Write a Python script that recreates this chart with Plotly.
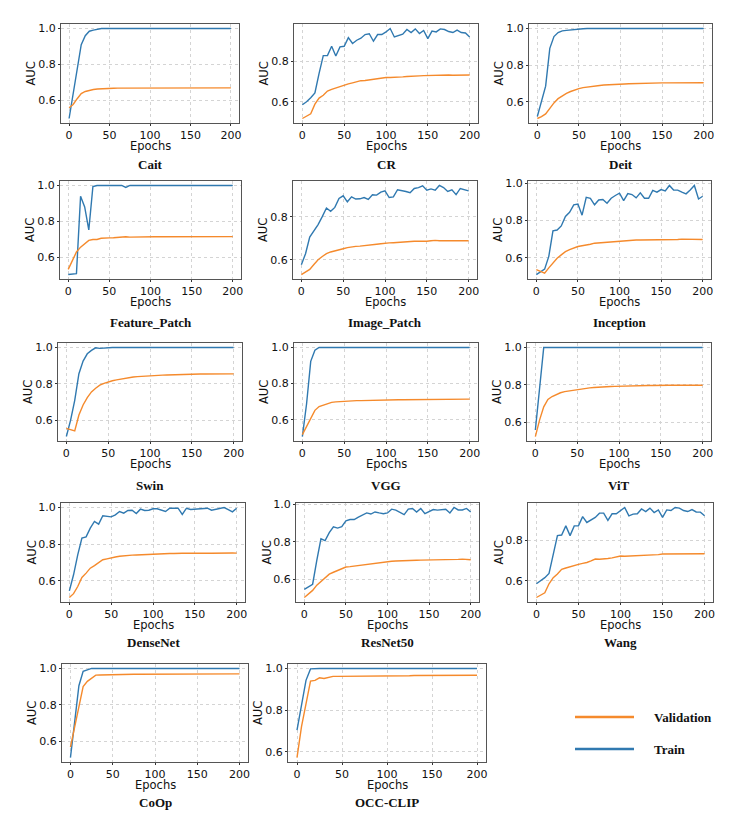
"""
Train / validation AUC curves over 200 epochs for 14 detectors,
laid out as a 5x3 grid of small panels with a shared legend in the
empty bottom-right slot.

Writes out.html.
"""
import plotly.graph_objects as go

EPOCHS = list(range(0, 201, 5))

CAIT_TRAIN = [0.500, 0.640, 0.770, 0.910, 0.960, 0.985, 0.991, 0.997, 1.000, 1.000,
              1.000, 1.000, 1.000, 1.000, 1.000, 1.000, 1.000, 1.000, 1.000, 1.000,
              1.000, 1.000, 1.000, 1.000, 1.000, 1.000, 1.000, 1.000, 1.000, 1.000,
              1.000, 1.000, 1.000, 1.000, 1.000, 1.000, 1.000, 1.000, 1.000, 1.000,
              1.000]
CAIT_VAL = [0.560, 0.578, 0.610, 0.638, 0.650, 0.657, 0.661, 0.664, 0.666, 0.667,
            0.668, 0.668, 0.669, 0.669, 0.669, 0.669, 0.669, 0.669, 0.669, 0.669,
            0.670, 0.670, 0.670, 0.670, 0.670, 0.670, 0.670, 0.670, 0.670, 0.670,
            0.670, 0.670, 0.670, 0.670, 0.670, 0.670, 0.670, 0.670, 0.670, 0.670,
            0.670]

CR_TRAIN = [0.585, 0.600, 0.620, 0.643, 0.740, 0.828, 0.828, 0.874, 0.826, 0.871,
            0.874, 0.917, 0.888, 0.904, 0.914, 0.932, 0.936, 0.899, 0.932, 0.932,
            0.945, 0.962, 0.920, 0.929, 0.934, 0.957, 0.942, 0.960, 0.937, 0.952,
            0.912, 0.949, 0.945, 0.960, 0.957, 0.947, 0.942, 0.954, 0.942, 0.940,
            0.920]
CR_VAL = [0.517, 0.528, 0.540, 0.588, 0.618, 0.632, 0.653, 0.661, 0.668, 0.677,
          0.684, 0.688, 0.693, 0.699, 0.704, 0.705, 0.708, 0.712, 0.715, 0.718,
          0.720, 0.720, 0.720, 0.722, 0.723, 0.725, 0.727, 0.728, 0.728, 0.729,
          0.730, 0.731, 0.731, 0.731, 0.731, 0.732, 0.731, 0.732, 0.732, 0.732,
          0.732]

DEIT_TRAIN = [0.521, 0.610, 0.686, 0.892, 0.956, 0.978, 0.987, 0.990, 0.993, 0.996,
              0.998, 0.999, 1.000, 1.000, 1.000, 1.000, 1.000, 1.000, 1.000, 1.000,
              1.000, 1.000, 1.000, 1.000, 1.000, 1.000, 1.000, 1.000, 1.000, 1.000,
              1.000, 1.000, 1.000, 1.000, 1.000, 1.000, 1.000, 1.000, 1.000, 1.000,
              1.000]
DEIT_VAL = [0.510, 0.520, 0.535, 0.565, 0.595, 0.618, 0.634, 0.647, 0.657, 0.666,
            0.673, 0.678, 0.682, 0.685, 0.688, 0.690, 0.692, 0.694, 0.695, 0.696,
            0.697, 0.698, 0.699, 0.700, 0.701, 0.701, 0.702, 0.702, 0.703, 0.703,
            0.704, 0.704, 0.704, 0.704, 0.705, 0.705, 0.705, 0.705, 0.705, 0.705,
            0.705]

FEATURE_PATCH_TRAIN = [0.502, 0.503, 0.507, 0.939, 0.880, 0.752, 0.994, 1.000, 1.000, 1.000,
                       0.997, 1.000, 1.000, 1.000, 0.989, 1.000, 1.000, 1.000, 1.000, 1.000,
                       1.000, 1.000, 1.000, 1.000, 1.000, 1.000, 1.000, 1.000, 1.000, 1.000,
                       1.000, 1.000, 1.000, 1.000, 1.000, 1.000, 1.000, 1.000, 1.000, 1.000,
                       1.000]
FEATURE_PATCH_VAL = [0.531, 0.580, 0.628, 0.655, 0.675, 0.693, 0.698, 0.698, 0.705, 0.708,
                     0.707, 0.708, 0.710, 0.711, 0.713, 0.711, 0.712, 0.713, 0.712, 0.713,
                     0.713, 0.713, 0.713, 0.713, 0.713, 0.713, 0.713, 0.713, 0.713, 0.713,
                     0.713, 0.712, 0.712, 0.713, 0.714, 0.713, 0.713, 0.713, 0.713, 0.713,
                     0.714]

IMAGE_PATCH_TRAIN = [0.577, 0.628, 0.705, 0.735, 0.763, 0.800, 0.840, 0.825, 0.843, 0.885,
                     0.897, 0.869, 0.892, 0.882, 0.883, 0.889, 0.880, 0.902, 0.900, 0.914,
                     0.920, 0.889, 0.892, 0.925, 0.922, 0.917, 0.911, 0.931, 0.935, 0.943,
                     0.923, 0.929, 0.923, 0.945, 0.935, 0.917, 0.925, 0.902, 0.931, 0.925,
                     0.920]
IMAGE_PATCH_VAL = [0.531, 0.542, 0.555, 0.578, 0.600, 0.615, 0.628, 0.636, 0.642, 0.647,
                   0.651, 0.656, 0.660, 0.662, 0.663, 0.666, 0.669, 0.670, 0.672, 0.674,
                   0.677, 0.678, 0.679, 0.681, 0.682, 0.684, 0.686, 0.686, 0.686, 0.685,
                   0.686, 0.688, 0.690, 0.688, 0.688, 0.688, 0.688, 0.688, 0.690, 0.689,
                   0.688]

INCEPTION_TRAIN = [0.509, 0.526, 0.538, 0.607, 0.744, 0.749, 0.771, 0.822, 0.844, 0.884,
                   0.889, 0.829, 0.925, 0.920, 0.885, 0.911, 0.913, 0.893, 0.920, 0.935,
                   0.947, 0.907, 0.945, 0.940, 0.922, 0.949, 0.920, 0.920, 0.962, 0.953,
                   0.967, 0.960, 0.989, 0.964, 0.964, 0.953, 0.944, 0.965, 0.989, 0.916,
                   0.931]
INCEPTION_VAL = [0.535, 0.525, 0.516, 0.545, 0.571, 0.597, 0.615, 0.632, 0.643, 0.652,
                 0.660, 0.664, 0.666, 0.672, 0.678, 0.680, 0.682, 0.684, 0.686, 0.687,
                 0.688, 0.690, 0.691, 0.693, 0.695, 0.695, 0.695, 0.696, 0.696, 0.696,
                 0.696, 0.697, 0.697, 0.697, 0.698, 0.700, 0.699, 0.697, 0.696, 0.697,
                 0.698]

SWIN_TRAIN = [0.511, 0.600, 0.710, 0.856, 0.925, 0.965, 0.984, 0.998, 0.995, 0.998,
              0.998, 1.000, 1.000, 1.000, 1.000, 1.000, 1.000, 1.000, 1.000, 1.000,
              1.000, 1.000, 1.000, 1.000, 1.000, 1.000, 1.000, 1.000, 1.000, 1.000,
              1.000, 1.000, 1.000, 1.000, 1.000, 1.000, 1.000, 1.000, 1.000, 1.000,
              1.000]
SWIN_VAL = [0.556, 0.548, 0.542, 0.629, 0.684, 0.725, 0.756, 0.776, 0.793, 0.803,
            0.811, 0.817, 0.822, 0.827, 0.832, 0.835, 0.838, 0.840, 0.842, 0.844,
            0.845, 0.846, 0.847, 0.848, 0.849, 0.850, 0.851, 0.851, 0.852, 0.852,
            0.853, 0.853, 0.854, 0.854, 0.854, 0.854, 0.855, 0.855, 0.855, 0.855,
            0.855]

VGG_TRAIN = [0.507, 0.687, 0.923, 0.985, 1.000, 1.000, 1.000, 1.000, 1.000, 1.000,
             1.000, 1.000, 1.000, 1.000, 1.000, 1.000, 1.000, 1.000, 1.000, 1.000,
             1.000, 1.000, 1.000, 1.000, 1.000, 1.000, 1.000, 1.000, 1.000, 1.000,
             1.000, 1.000, 1.000, 1.000, 1.000, 1.000, 1.000, 1.000, 1.000, 1.000,
             1.000]
VGG_VAL = [0.518, 0.560, 0.610, 0.652, 0.673, 0.682, 0.690, 0.696, 0.699, 0.701,
           0.703, 0.704, 0.705, 0.706, 0.706, 0.707, 0.707, 0.708, 0.708, 0.709,
           0.710, 0.710, 0.710, 0.711, 0.711, 0.711, 0.711, 0.712, 0.712, 0.712,
           0.712, 0.712, 0.713, 0.713, 0.713, 0.713, 0.713, 0.714, 0.714, 0.714,
           0.714]

VIT_TRAIN = [0.559, 0.770, 1.000, 1.000, 1.000, 1.000, 1.000, 1.000, 1.000, 1.000,
             1.000, 1.000, 1.000, 1.000, 1.000, 1.000, 1.000, 1.000, 1.000, 1.000,
             1.000, 1.000, 1.000, 1.000, 1.000, 1.000, 1.000, 1.000, 1.000, 1.000,
             1.000, 1.000, 1.000, 1.000, 1.000, 1.000, 1.000, 1.000, 1.000, 1.000,
             1.000]
VIT_VAL = [0.524, 0.612, 0.683, 0.722, 0.738, 0.750, 0.758, 0.764, 0.768, 0.772,
           0.775, 0.778, 0.781, 0.784, 0.786, 0.788, 0.789, 0.790, 0.791, 0.792,
           0.793, 0.794, 0.794, 0.795, 0.796, 0.796, 0.797, 0.797, 0.797, 0.798,
           0.798, 0.798, 0.798, 0.798, 0.798, 0.798, 0.798, 0.798, 0.798, 0.798,
           0.798]

DENSENET_TRAIN = [0.545, 0.633, 0.742, 0.833, 0.840, 0.887, 0.924, 0.909, 0.955, 0.953,
                  0.949, 0.960, 0.978, 0.969, 0.984, 0.985, 0.967, 0.991, 0.984, 0.985,
                  0.993, 0.993, 0.987, 0.978, 0.996, 0.998, 0.996, 0.962, 0.996, 0.989,
                  0.991, 0.993, 0.993, 0.996, 0.985, 0.989, 0.996, 1.000, 0.989, 0.976,
                  0.996]
DENSENET_VAL = [0.509, 0.530, 0.569, 0.618, 0.642, 0.669, 0.683, 0.698, 0.715, 0.720,
                0.727, 0.730, 0.734, 0.737, 0.739, 0.740, 0.741, 0.742, 0.744, 0.746,
                0.749, 0.748, 0.747, 0.748, 0.749, 0.749, 0.748, 0.750, 0.751, 0.750,
                0.750, 0.751, 0.751, 0.750, 0.750, 0.751, 0.750, 0.751, 0.752, 0.752,
                0.751]

RESNET50_TRAIN = [0.545, 0.558, 0.573, 0.700, 0.816, 0.806, 0.849, 0.880, 0.873, 0.880,
                  0.912, 0.919, 0.919, 0.932, 0.945, 0.954, 0.948, 0.959, 0.954, 0.950,
                  0.954, 0.974, 0.969, 0.959, 0.945, 0.974, 0.978, 0.959, 0.978, 0.950,
                  0.959, 0.972, 0.969, 0.970, 0.974, 0.954, 0.983, 0.970, 0.970, 0.978,
                  0.959]
RESNET50_VAL = [0.502, 0.520, 0.540, 0.568, 0.587, 0.605, 0.627, 0.637, 0.647, 0.656,
                0.665, 0.667, 0.670, 0.674, 0.678, 0.680, 0.683, 0.685, 0.688, 0.691,
                0.695, 0.696, 0.697, 0.697, 0.697, 0.699, 0.700, 0.701, 0.702, 0.702,
                0.703, 0.703, 0.703, 0.703, 0.704, 0.705, 0.706, 0.706, 0.707, 0.706,
                0.704]

WANG_TRAIN = [0.585, 0.600, 0.615, 0.636, 0.727, 0.823, 0.826, 0.871, 0.823, 0.871,
              0.871, 0.917, 0.888, 0.901, 0.913, 0.934, 0.934, 0.898, 0.931, 0.931,
              0.945, 0.962, 0.921, 0.929, 0.931, 0.955, 0.942, 0.959, 0.937, 0.950,
              0.913, 0.950, 0.947, 0.962, 0.959, 0.947, 0.942, 0.952, 0.940, 0.939,
              0.921]
WANG_VAL = [0.517, 0.528, 0.540, 0.585, 0.615, 0.633, 0.656, 0.663, 0.670, 0.676,
            0.681, 0.686, 0.690, 0.698, 0.707, 0.706, 0.707, 0.710, 0.713, 0.717,
            0.722, 0.721, 0.722, 0.723, 0.724, 0.725, 0.727, 0.727, 0.726, 0.729,
            0.732, 0.732, 0.732, 0.732, 0.732, 0.731, 0.730, 0.733, 0.733, 0.733,
            0.733]

COOP_TRAIN = [0.509, 0.705, 0.905, 0.984, 0.991, 1.000, 1.000, 1.000, 1.000, 1.000,
              1.000, 1.000, 1.000, 1.000, 1.000, 1.000, 1.000, 1.000, 1.000, 1.000,
              1.000, 1.000, 1.000, 1.000, 1.000, 1.000, 1.000, 1.000, 1.000, 1.000,
              1.000, 1.000, 1.000, 1.000, 1.000, 1.000, 1.000, 1.000, 1.000, 1.000,
              1.000]
COOP_VAL = [0.567, 0.680, 0.790, 0.900, 0.929, 0.947, 0.963, 0.964, 0.965, 0.966,
            0.967, 0.967, 0.967, 0.967, 0.968, 0.968, 0.968, 0.968, 0.968, 0.968,
            0.968, 0.968, 0.969, 0.969, 0.969, 0.969, 0.969, 0.969, 0.969, 0.969,
            0.970, 0.970, 0.970, 0.970, 0.970, 0.970, 0.970, 0.970, 0.970, 0.970,
            0.970]

OCC_CLIP_TRAIN = [0.704, 0.815, 0.943, 0.998, 1.000, 1.000, 1.000, 1.000, 1.000, 1.000,
                  1.000, 1.000, 1.000, 1.000, 1.000, 1.000, 1.000, 1.000, 1.000, 1.000,
                  1.000, 1.000, 1.000, 1.000, 1.000, 1.000, 1.000, 1.000, 1.000, 1.000,
                  1.000, 1.000, 1.000, 1.000, 1.000, 1.000, 1.000, 1.000, 1.000, 1.000,
                  1.000]
OCC_CLIP_VAL = [0.572, 0.720, 0.830, 0.939, 0.943, 0.955, 0.952, 0.957, 0.962, 0.962,
                0.962, 0.963, 0.963, 0.963, 0.964, 0.964, 0.964, 0.964, 0.964, 0.965,
                0.965, 0.965, 0.965, 0.965, 0.965, 0.965, 0.966, 0.966, 0.966, 0.966,
                0.966, 0.966, 0.966, 0.966, 0.967, 0.967, 0.967, 0.967, 0.967, 0.967,
                0.967]

PANELS = [
    ("Cait", CAIT_TRAIN, CAIT_VAL),
    ("CR", CR_TRAIN, CR_VAL),
    ("Deit", DEIT_TRAIN, DEIT_VAL),
    ("Feature_Patch", FEATURE_PATCH_TRAIN, FEATURE_PATCH_VAL),
    ("Image_Patch", IMAGE_PATCH_TRAIN, IMAGE_PATCH_VAL),
    ("Inception", INCEPTION_TRAIN, INCEPTION_VAL),
    ("Swin", SWIN_TRAIN, SWIN_VAL),
    ("VGG", VGG_TRAIN, VGG_VAL),
    ("ViT", VIT_TRAIN, VIT_VAL),
    ("DenseNet", DENSENET_TRAIN, DENSENET_VAL),
    ("ResNet50", RESNET50_TRAIN, RESNET50_VAL),
    ("Wang", WANG_TRAIN, WANG_VAL),
    ("CoOp", COOP_TRAIN, COOP_VAL),
    ("OCC-CLIP", OCC_CLIP_TRAIN, OCC_CLIP_VAL),
]

X_TICKS = [0, 50, 100, 150, 200]
Y_TICKS = [0.6, 0.8, 1.0]

# the page body has an 8px margin, so the figure is shrunk and shifted to fit
W, H = 747, 830
PAGE_PAD = 8
FIG_W, FIG_H = W - 2 * PAGE_PAD, H - 2 * PAGE_PAD

TRAIN_COLOR = "#3079b0"
VAL_COLOR = "#f58a2c"
FRAME = "#555555"
TEXT = "#111111"

# panel frames in window pixels: left, right, top, bottom
BOXES = [
    (61, 239, 24, 123), (294, 478, 24, 123), (529, 712, 24, 123),
    (60, 241, 181, 279), (293, 477, 181, 279), (528, 711, 181, 279),
    (58, 242, 343, 441), (294, 478, 343, 441), (527, 711, 343, 441),
    (61, 245, 503, 602), (296, 479, 503, 602), (528, 713, 503, 602),
    (62, 248, 664, 762), (288, 486, 664, 762),
]
TITLE_Y = [164, 164, 164, 322, 322, 322, 485, 485, 485, 642, 642, 642, 802, 802]


def px(x, y):
    return (x - PAGE_PAD) / FIG_W, 1 - (y - PAGE_PAD) / FIG_H


fig = go.Figure()
layout = {}
annotations = []


def label(text, x, y, size=11.5, family="DejaVu Sans", angle=0):
    ax, ay = px(x, y)
    annotations.append(dict(
        text=text, xref="paper", yref="paper", x=ax, y=ay,
        xanchor="center", yanchor="middle", showarrow=False, textangle=angle,
        font=dict(family=family, size=size, color=TEXT)))


for i, (name, train, val) in enumerate(PANELS, start=1):
    sfx = "" if i == 1 else str(i)
    left, right, top, bottom = BOXES[i - 1]
    x0, y1 = px(left, top)
    x1, y0 = px(right, bottom)

    fig.add_trace(go.Scatter(x=EPOCHS, y=train, mode="lines", name="Train",
                             line=dict(color=TRAIN_COLOR, width=1.4),
                             xaxis="x" + sfx, yaxis="y" + sfx, showlegend=False))
    fig.add_trace(go.Scatter(x=EPOCHS, y=val, mode="lines", name="Validation",
                             line=dict(color=VAL_COLOR, width=1.4),
                             xaxis="x" + sfx, yaxis="y" + sfx, showlegend=False))

    lo = min(train + val)
    hi = max(train + val)
    pad = 0.05 * (hi - lo)

    common = dict(showline=True, mirror=True, linecolor=FRAME, linewidth=1,
                  ticks="outside", ticklen=2, tickcolor="#333333",
                  showgrid=True, gridcolor="#d4d4d4", griddash="dot", gridwidth=0.8,
                  zeroline=False, automargin=False,
                  tickfont=dict(family="DejaVu Sans", size=11, color=TEXT))
    layout["xaxis" + sfx] = dict(
        domain=[x0, x1], anchor="y" + sfx, range=[-10, 210],
        tickvals=X_TICKS, **common)
    layout["yaxis" + sfx] = dict(
        domain=[y0, y1], anchor="x" + sfx, range=[lo - pad, hi + pad],
        tickvals=Y_TICKS, tickformat=".1f", **common)

    label("Epochs", (left + right) / 2, bottom + 23)
    label("AUC", left - 30, (top + bottom) / 2, angle=-90)
    label(f"<b>{name}</b>", (left + right) / 2, TITLE_Y[i - 1],
          size=13, family="Liberation Serif")

# shared legend in the empty bottom-right slot
legend_items = [("Validation", VAL_COLOR, 717), ("Train", TRAIN_COLOR, 749)]
shapes = []
for text, color, ly in legend_items:
    lx0, ly0 = px(575, ly)
    lx1, _ = px(634, ly)
    shapes.append(dict(type="line", xref="paper", yref="paper",
                       x0=lx0, x1=lx1, y0=ly0, y1=ly0,
                       line=dict(color=color, width=2.5)))
    tx, ty = px(652, ly)
    annotations.append(dict(
        text=f"<b>{text}</b>", xref="paper", yref="paper", x=tx, y=ty,
        xanchor="left", yanchor="middle", showarrow=False,
        font=dict(family="Liberation Serif", size=13, color=TEXT)))

fig.update_layout(
    **layout,
    annotations=annotations,
    shapes=shapes,
    width=FIG_W, height=FIG_H,
    margin=dict(l=0, r=0, t=0, b=0),
    plot_bgcolor="white",
    paper_bgcolor="white",
    showlegend=False,
)

fig.write_html("out.html")
